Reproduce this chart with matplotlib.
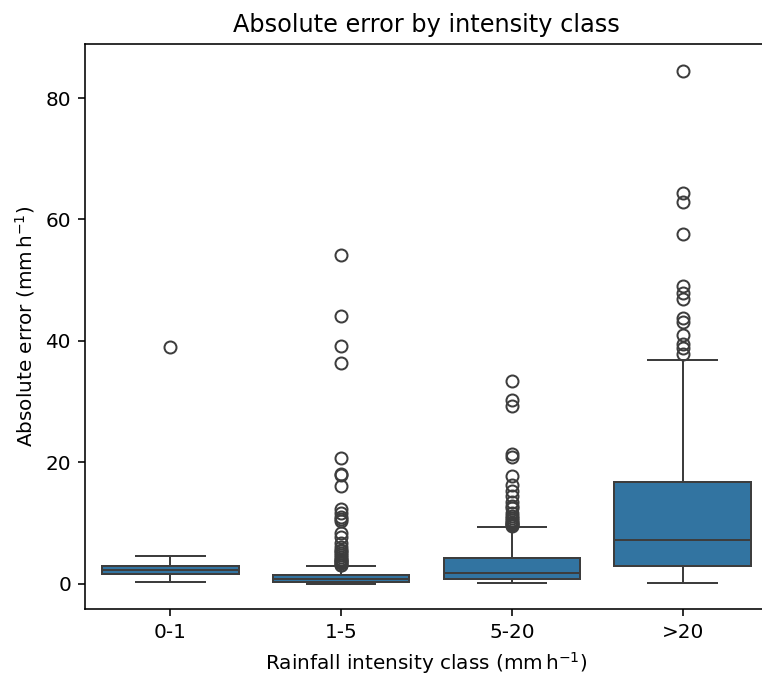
import matplotlib
matplotlib.use("Agg")
import matplotlib.pyplot as plt

categories = ["0-1", "1-5", "5-20", ">20"]
medians = [2.2, 0.8, 1.8, 7.2]
q1 = [1.5, 0.3, 0.7, 2.9]
q3 = [2.9, 1.4, 4.2, 16.8]
whisker_low = [0.2, 0.0, 0.05, 0.1]
whisker_high = [4.5, 2.9, 9.3, 36.8]
fliers_0_1 = [38.9]
fliers_1_5 = [54.1, 44.1, 39.1, 36.4, 20.7, 18.0, 17.8, 16.0, 12.3, 11.6, 11.0,
              10.6, 10.3, 8.3, 7.6, 6.7, 6.0, 5.6, 5.3, 5.0, 4.7, 4.4, 4.1, 3.9,
              3.7, 3.5, 3.3, 3.1, 3.0]
fliers_5_20 = [33.3, 30.3, 29.2, 21.3, 20.8, 17.7, 16.3, 15.2, 14.4, 13.5, 12.8,
               12.4, 11.6, 11.1, 10.8, 10.5, 10.2, 10.0, 9.8, 9.6, 9.5]
fliers_gt20 = [84.5, 64.3, 62.8, 57.6, 49.1, 47.9, 46.8, 43.7, 43.1, 41.0, 39.5,
               38.8, 37.8]
fliers = [fliers_0_1, fliers_1_5, fliers_5_20, fliers_gt20]

title = "Absolute error by intensity class"
xlabel = r"Rainfall intensity class (mm$\,$h$^{-1}$)"
ylabel = r"Absolute error (mm$\,$h$^{-1}$)"

box_color = "#3274a1"
line_color = "#3d3d3d"

s = 1.44
plt.rcParams.update({
    "axes.linewidth": 0.8 * s,
    "xtick.major.width": 0.8 * s,
    "ytick.major.width": 0.8 * s,
    "xtick.major.size": 3.5 * s,
    "ytick.major.size": 3.5 * s,
    "xtick.major.pad": 3.5 * s,
    "ytick.major.pad": 3.5 * s,
    "axes.labelpad": 4.0 * s,
    "axes.titlepad": 6.0 * s,
})

fig = plt.figure(figsize=(7.62, 6.74), dpi=100)
ax = fig.add_axes([85 / 762, 1 - 609 / 674, 683 / 762, 565 / 674])

stats = []
for i, c in enumerate(categories):
    stats.append(dict(label=c, med=medians[i], q1=q1[i], q3=q3[i],
                      whislo=whisker_low[i], whishi=whisker_high[i],
                      fliers=fliers[i]))

lw = 1.0 * s
ax.bxp(stats, positions=range(len(categories)), widths=0.8, capwidths=0.4,
       patch_artist=True, showfliers=True,
       boxprops=dict(facecolor=box_color, edgecolor=line_color, linewidth=lw),
       medianprops=dict(color=line_color, linewidth=lw),
       whiskerprops=dict(color=line_color, linewidth=lw),
       capprops=dict(color=line_color, linewidth=lw),
       flierprops=dict(marker="o", markerfacecolor="none",
                       markeredgecolor=line_color, markersize=6 * s,
                       markeredgewidth=lw))

ax.set_xlim(-0.5, 3.5)
ax.set_ylim(-4.2, 88.9)
ax.set_yticks([0, 20, 40, 60, 80])
ax.tick_params(labelsize=10 * s)
ax.set_title(title, fontsize=12 * s)
ax.set_xlabel(xlabel, fontsize=10 * s)
ax.set_ylabel(ylabel, fontsize=10 * s)

fig.savefig("out.png", dpi=100)
